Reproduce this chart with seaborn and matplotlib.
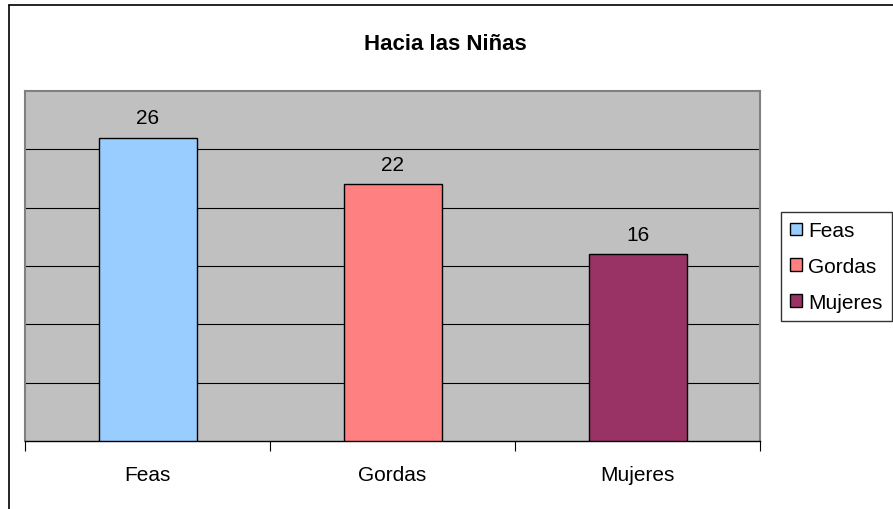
import matplotlib
matplotlib.use("Agg")
import matplotlib.pyplot as plt
from matplotlib.lines import Line2D
from matplotlib.patches import Patch
import seaborn as sns
import pandas as pd

categories = ["Feas", "Gordas", "Mujeres"]
values = [26, 22, 16]
colors = ["#99CCFF", "#FF8080", "#993366"]
title = "Hacia las Niñas"

sns.set_theme(style="white")
plt.rcParams["font.family"] = ["Liberation Sans", "DejaVu Sans"]
plt.rcParams["text.color"] = "black"
plt.rcParams["xtick.color"] = "black"

df = pd.DataFrame({"cat": categories, "val": values})

fig = plt.figure(figsize=(8.93, 5.10), dpi=100)
W, H = 893, 510
ax = fig.add_axes([25 / W, 1 - 442 / H, (760 - 25) / W, (442 - 92) / H])
ax.set_facecolor("#C0C0C0")

sns.barplot(data=df, x="cat", y="val", hue="cat", palette=colors, width=0.4,
            saturation=1, edgecolor="black", linewidth=1.0, legend=False, ax=ax, zorder=3)

ax.set_ylim(0, 30)
ax.set_xlim(-0.5, 2.5)
ax.set_yticks([])
for yv in [5, 10, 15, 20, 25]:
    ax.axhline(yv, color="black", linewidth=0.8, zorder=1)

for i, v in enumerate(values):
    ax.text(i, v + 0.9, str(v), ha="center", va="bottom", fontsize=15, color="black")

ax.set_xlabel("")
ax.set_ylabel("")
ax.set_xticks(range(len(categories)))
ax.set_xticklabels(categories, fontsize=15, color="black")
ax.tick_params(axis="x", which="major", length=0, pad=17, bottom=True)
ax.set_xticks([-0.5, 0.5, 1.5, 2.5], minor=True)
ax.tick_params(axis="x", which="minor", length=7, width=0.8, color="black",
               direction="out", bottom=True)

for s in ["top", "right", "left"]:
    ax.spines[s].set_color("#808080")
    ax.spines[s].set_linewidth(1.5)
    ax.spines[s].set_visible(True)
ax.spines["bottom"].set_color("black")
ax.spines["bottom"].set_linewidth(1.0)
ax.spines["bottom"].set_visible(True)

fig.text(445 / W, 1 - 45 / H, title, ha="center", va="center", fontsize=16,
         fontweight="bold", color="black")

# outer frame (left and top edges visible)
fig.add_artist(Line2D([8.5 / W, 8.5 / W], [0, 1 - 5.5 / H], color="black", linewidth=1.2, transform=fig.transFigure))
fig.add_artist(Line2D([8.5 / W, 1], [1 - 5.5 / H, 1 - 5.5 / H], color="black", linewidth=1.2, transform=fig.transFigure))

handles = [Patch(facecolor=c, edgecolor="black", linewidth=1.0, label=l) for c, l in zip(colors, categories)]
leg = fig.legend(handles=handles, loc="upper left", bbox_to_anchor=(781 / W, 1 - 213 / H),
                 frameon=True, fontsize=15, handlelength=0.55, handleheight=0.55,
                 handletextpad=0.3, borderpad=0.45, labelspacing=0.8, borderaxespad=0,
                 fancybox=False)
leg.get_frame().set_edgecolor("black")
leg.get_frame().set_linewidth(1.0)
for t in leg.get_texts():
    t.set_color("black")

fig.savefig("out.png", dpi=100)
